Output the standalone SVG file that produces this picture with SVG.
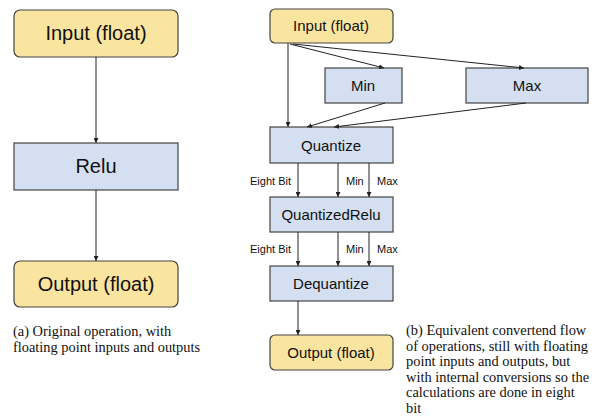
<svg xmlns="http://www.w3.org/2000/svg" width="597" height="418" viewBox="0 0 597 418">
  <style>
    .io { fill: #fae5a0; stroke: #444; stroke-width: 1.2; }
    .op { fill: #d4e0f1; stroke: #444; stroke-width: 1.2; }
    .lbl { font-family: "Liberation Sans", Arial, sans-serif; fill: #111; text-anchor: middle; }
    .big { font-size: 20px; }
    .mid { font-size: 15px; }
    .tag { font-family: "Liberation Sans", Arial, sans-serif; font-size: 11px; fill: #111; }
    .cap { font-family: "Liberation Serif", "Times New Roman", serif; font-size: 14.4px; fill: #111; }
    .edge { stroke: #222; stroke-width: 1; fill: none; marker-end: url(#arrow); }
  </style>
  <defs>
    <marker id="arrow" viewBox="0 0 8 8" refX="8" refY="4" markerWidth="5" markerHeight="5" orient="auto" markerUnits="userSpaceOnUse">
      <path d="M0,0 L8,4 L0,8 z" fill="#222"/>
    </marker>
  </defs>

  <!-- (a) original operation -->
  <g id="a-input">
    <rect class="io" x="14" y="10" width="164" height="47" rx="6"/>
    <text class="lbl big" x="96" y="40">Input (float)</text>
  </g>
  <g id="a-relu">
    <rect class="op" x="14" y="143" width="164" height="47"/>
    <text class="lbl big" x="96" y="173">Relu</text>
  </g>
  <g id="a-output">
    <rect class="io" x="14" y="261" width="164" height="46" rx="6"/>
    <text class="lbl big" x="96" y="291">Output (float)</text>
  </g>

  <!-- (b) quantized flow -->
  <g id="b-input">
    <rect class="io" x="270" y="9" width="123" height="34" rx="5"/>
    <text class="lbl mid" x="331" y="31">Input (float)</text>
  </g>
  <g id="b-min">
    <rect class="op" x="325" y="68" width="77" height="35"/>
    <text class="lbl mid" x="363" y="91">Min</text>
  </g>
  <g id="b-max">
    <rect class="op" x="466" y="68" width="122" height="35"/>
    <text class="lbl mid" x="527" y="91">Max</text>
  </g>
  <g id="b-quantize">
    <rect class="op" x="270" y="127" width="123" height="36"/>
    <text class="lbl mid" x="331" y="151">Quantize</text>
  </g>
  <g id="b-qrelu">
    <rect class="op" x="270" y="197" width="123" height="35"/>
    <text class="lbl mid" x="331" y="220">QuantizedRelu</text>
  </g>
  <g id="b-dequantize">
    <rect class="op" x="270" y="266" width="123" height="35"/>
    <text class="lbl mid" x="331" y="289">Dequantize</text>
  </g>
  <g id="b-output">
    <rect class="io" x="270" y="335" width="123" height="35" rx="5"/>
    <text class="lbl mid" x="331" y="358">Output (float)</text>
  </g>

  <g id="connectors">
    <line class="edge" x1="96" y1="57" x2="96" y2="143"/>
    <line class="edge" x1="96" y1="190" x2="96" y2="261"/>

    <line class="edge" x1="288" y1="43" x2="288" y2="127"/>
    <line class="edge" x1="290" y1="44" x2="384" y2="68"/>
    <line class="edge" x1="293" y1="44" x2="524" y2="68"/>
    <line class="edge" x1="385" y1="103" x2="307" y2="127"/>
    <line class="edge" x1="526" y1="103" x2="334" y2="127"/>

    <line class="edge" x1="298" y1="163" x2="298" y2="197"/>
    <line class="edge" x1="338" y1="163" x2="338" y2="197"/>
    <line class="edge" x1="369" y1="163" x2="369" y2="197"/>

    <line class="edge" x1="298" y1="232" x2="298" y2="266"/>
    <line class="edge" x1="338" y1="232" x2="338" y2="266"/>
    <line class="edge" x1="369" y1="232" x2="369" y2="266"/>

    <line class="edge" x1="298" y1="301" x2="298" y2="335"/>
  </g>

  <g id="edge-labels">
    <text class="tag" x="250" y="185">Eight Bit</text>
    <text class="tag" x="346" y="185">Min</text>
    <text class="tag" x="377" y="185">Max</text>
    <text class="tag" x="250" y="253">Eight Bit</text>
    <text class="tag" x="346" y="253">Min</text>
    <text class="tag" x="377" y="253">Max</text>
  </g>

  <g id="captions">
    <text class="cap" x="13" y="336">(a) Original operation, with</text>
    <text class="cap" x="13" y="352">floating point inputs and outputs</text>
    <text class="cap" x="406" y="335">(b) Equivalent convertend flow</text>
    <text class="cap" x="406" y="350.5">of operations, still with floating</text>
    <text class="cap" x="406" y="366">point inputs and outputs, but</text>
    <text class="cap" x="406" y="381.5">with internal conversions so the</text>
    <text class="cap" x="406" y="397">calculations are done in eight</text>
    <text class="cap" x="406" y="412.5">bit</text>
  </g>
</svg>
